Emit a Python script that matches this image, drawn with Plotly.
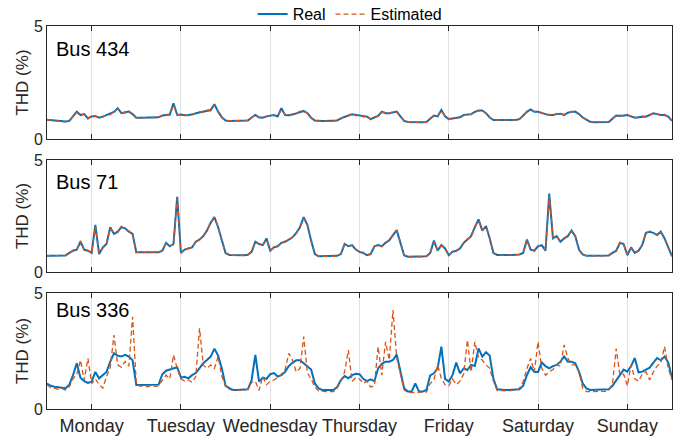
import numpy as np
import plotly.graph_objects as go

# ---------------- data (hourly samples, 7 days) ----------------
day_labels = ["Monday", "Tuesday", "Wednesday", "Thursday", "Friday", "Saturday", "Sunday"]
bus_names = ["Bus 434", "Bus 71", "Bus 336"]

bus434_real = [
    0.85,0.84,0.82,0.80,0.78,0.77,0.80,0.99,1.21,1.06,1.10,0.91,1.00,1.02,0.94,0.99,1.06,1.10,1.20,1.36,1.14,1.18,1.21,1.10,
    0.94,0.94,0.94,0.94,0.94,0.94,0.96,1.04,1.06,1.08,1.58,1.06,1.08,1.05,1.06,1.08,1.14,1.18,1.21,1.24,1.28,1.54,1.21,0.96,
    0.82,0.80,0.80,0.80,0.80,0.80,0.82,0.95,1.06,0.96,0.94,1.00,1.02,1.06,1.00,1.36,1.06,1.05,1.08,1.14,1.20,1.24,1.14,0.94,
    0.82,0.80,0.80,0.80,0.80,0.80,0.82,0.91,0.99,1.04,1.09,1.06,1.05,1.00,0.99,0.88,0.95,1.02,1.21,1.14,1.14,1.18,1.21,1.00,
    0.80,0.75,0.74,0.74,0.74,0.74,0.75,0.90,1.04,1.00,1.28,1.00,0.88,0.91,0.92,0.96,1.06,1.08,1.10,1.20,1.26,1.26,1.14,0.95,
    0.84,0.84,0.84,0.84,0.84,0.84,0.84,0.88,1.04,1.20,1.31,1.20,1.20,1.14,1.10,1.06,1.06,1.10,1.12,1.06,1.16,1.20,1.21,1.10,
    0.95,0.86,0.76,0.74,0.74,0.74,0.74,0.75,0.90,1.04,1.02,1.04,1.06,1.00,0.94,0.96,0.99,0.99,1.06,1.14,1.10,1.06,1.06,0.99,
    0.80]
bus434_est = [
    0.84,0.85,0.81,0.79,0.79,0.76,0.81,1.02,1.17,1.04,1.12,0.89,1.03,0.99,0.96,0.97,1.08,1.07,1.24,1.32,1.16,1.15,1.24,1.08,
    0.93,0.95,0.93,0.95,0.93,0.95,0.97,1.02,1.09,1.05,1.50,1.09,1.05,1.08,1.03,1.10,1.12,1.21,1.18,1.27,1.25,1.50,1.24,0.94,
    0.81,0.81,0.79,0.81,0.79,0.81,0.83,0.93,1.09,0.94,0.97,0.98,1.05,1.03,1.03,1.30,1.09,1.02,1.11,1.12,1.23,1.21,1.16,0.92,
    0.83,0.79,0.81,0.79,0.81,0.79,0.83,0.89,1.02,1.01,1.12,1.03,1.08,0.97,1.02,0.86,0.98,1.00,1.18,1.17,1.11,1.21,1.18,1.02,
    0.79,0.76,0.73,0.75,0.73,0.75,0.74,0.92,1.01,1.03,1.22,1.03,0.86,0.94,0.90,0.99,1.03,1.11,1.07,1.23,1.23,1.29,1.11,0.97,
    0.83,0.85,0.83,0.85,0.83,0.85,0.83,0.90,1.01,1.23,1.27,1.23,1.17,1.17,1.07,1.09,1.03,1.13,1.09,1.09,1.13,1.23,1.18,1.12,
    0.94,0.87,0.75,0.75,0.73,0.75,0.73,0.76,0.92,1.01,1.05,1.01,1.09,0.97,0.96,0.94,1.02,0.97,1.09,1.11,1.13,1.03,1.09,0.96,
    0.81]

bus71_real = [
    0.73,0.73,0.73,0.73,0.73,0.74,0.85,0.95,1.00,1.35,1.00,0.95,0.85,2.10,0.80,1.10,1.25,2.00,1.70,1.80,2.00,1.95,1.80,1.70,
    0.88,0.88,0.88,0.88,0.88,0.88,0.88,0.95,1.30,1.15,1.25,3.36,0.85,1.00,1.05,1.10,1.35,1.45,1.60,1.85,2.20,2.45,2.00,1.40,
    0.85,0.76,0.75,0.75,0.75,0.75,0.77,0.90,1.35,1.25,1.20,1.50,0.95,1.10,1.15,1.30,1.35,1.45,1.55,1.75,2.00,2.45,2.10,1.40,
    0.80,0.70,0.70,0.70,0.70,0.70,0.72,0.80,1.25,1.15,1.20,1.00,0.90,0.85,0.75,0.80,1.15,1.20,1.15,1.30,1.42,1.65,1.87,1.30,
    0.75,0.68,0.68,0.68,0.68,0.68,0.70,0.85,1.40,0.95,1.20,1.05,0.75,0.90,0.95,1.05,1.30,1.45,1.60,2.00,2.35,1.85,2.05,1.50,
    0.85,0.76,0.75,0.76,0.76,0.76,0.77,0.78,0.85,1.45,1.00,0.95,1.15,1.20,0.95,3.50,1.50,1.60,1.35,1.50,1.60,1.85,1.60,1.00,
    0.78,0.72,0.72,0.72,0.72,0.72,0.72,0.74,0.85,0.95,1.30,1.25,0.75,1.10,0.85,0.95,1.20,1.75,1.80,1.75,1.65,1.80,1.50,1.10,
    0.70]
bus71_est = [
    0.72,0.74,0.72,0.74,0.72,0.75,0.83,0.98,0.97,1.40,0.97,0.98,0.82,2.05,0.83,1.07,1.28,1.95,1.74,1.76,2.04,1.90,1.84,1.66,
    0.87,0.89,0.87,0.89,0.87,0.89,0.87,0.98,1.27,1.18,1.22,3.30,0.88,0.97,1.08,1.07,1.38,1.42,1.64,1.81,2.24,2.40,2.04,1.36,
    0.84,0.77,0.74,0.76,0.74,0.76,0.76,0.93,1.31,1.28,1.17,1.45,0.98,1.07,1.18,1.27,1.38,1.42,1.58,1.72,2.04,2.40,2.13,1.36,
    0.81,0.71,0.69,0.71,0.69,0.71,0.71,0.83,1.22,1.18,1.17,1.03,0.87,0.88,0.74,0.83,1.12,1.23,1.12,1.33,1.38,1.68,1.83,1.33,
    0.74,0.69,0.67,0.69,0.67,0.69,0.71,0.82,1.36,0.98,1.17,1.08,0.73,0.93,0.92,1.08,1.27,1.48,1.57,2.03,2.30,1.88,2.01,1.53,
    0.84,0.77,0.74,0.77,0.75,0.77,0.76,0.79,0.88,1.40,1.03,0.92,1.18,1.17,0.98,3.42,1.53,1.57,1.38,1.47,1.63,1.82,1.63,0.97,
    0.77,0.73,0.71,0.73,0.71,0.73,0.71,0.75,0.88,0.92,1.33,1.22,0.78,1.07,0.88,0.92,1.23,1.72,1.83,1.72,1.68,1.77,1.53,1.07,
    0.71]

bus336_real = [
    1.10,1.00,0.96,0.94,0.92,0.90,1.05,1.46,1.97,1.35,1.20,1.12,1.18,1.60,1.32,1.46,1.60,2.04,2.40,2.30,2.26,2.33,2.26,2.10,
    1.03,1.03,1.03,1.03,1.03,1.03,1.05,1.50,1.65,1.70,1.75,1.80,1.35,1.39,1.32,1.46,1.55,1.78,1.97,2.11,2.26,2.60,2.30,1.75,
    1.00,0.90,0.82,0.82,0.82,0.82,0.85,1.25,2.33,1.18,1.35,1.30,1.50,1.55,1.40,1.46,1.60,1.85,2.00,2.10,2.10,1.97,1.85,1.70,
    1.10,0.89,0.82,0.82,0.82,0.82,0.95,1.25,1.42,1.32,1.46,1.52,1.50,1.30,1.20,1.28,1.20,1.75,1.95,2.04,2.04,2.11,2.35,1.65,
    0.89,0.75,0.75,1.10,0.75,0.75,0.82,1.45,1.54,1.75,2.69,1.30,1.18,1.46,2.00,1.54,1.75,1.68,1.90,1.85,2.61,2.26,2.45,2.30,
    1.30,0.85,0.82,0.82,0.82,0.82,0.82,0.85,1.00,1.46,1.80,1.60,1.60,2.00,1.85,1.75,1.85,1.90,2.04,2.26,2.04,2.04,1.97,1.61,
    1.10,0.89,0.82,0.82,0.82,0.82,0.82,0.85,1.00,1.25,1.46,1.70,1.61,1.85,2.20,1.58,1.61,1.70,1.78,2.00,2.20,2.10,2.26,2.00,
    1.35]
bus336_est = [
    1.05,0.92,0.90,0.85,0.88,0.82,0.95,1.30,1.50,2.10,1.25,2.18,1.10,1.30,1.05,0.90,1.40,1.80,3.19,1.90,1.80,2.05,1.85,3.97,
    1.10,0.98,1.00,0.96,1.00,0.98,1.00,1.25,1.46,1.30,2.33,1.75,1.30,1.20,1.25,1.15,1.40,3.48,1.90,1.75,1.90,1.75,2.26,1.40,
    1.00,0.85,0.80,0.82,0.80,0.82,0.85,1.15,1.20,0.80,1.40,1.05,1.20,1.25,1.35,1.50,1.70,2.40,2.10,1.60,1.75,3.12,1.55,1.30,
    0.95,0.78,0.75,0.75,0.75,0.75,0.90,1.20,1.60,2.54,1.20,1.35,1.30,1.10,1.20,0.95,1.00,2.69,1.46,2.90,2.11,4.27,2.20,1.50,
    0.82,0.71,0.71,0.72,0.70,0.71,0.73,1.10,1.25,1.90,1.32,1.05,1.00,1.30,1.05,1.20,1.50,2.97,1.60,2.90,2.20,2.11,1.90,1.75,
    1.20,0.80,0.79,0.80,0.78,0.80,0.80,0.90,1.18,1.75,2.18,1.60,2.90,1.75,1.46,1.60,1.70,1.90,1.85,2.76,2.20,1.90,1.90,1.60,
    0.90,0.75,0.75,0.75,0.75,0.75,0.76,0.80,1.10,2.60,1.46,1.50,1.00,1.90,1.30,1.20,1.50,1.60,1.25,1.60,1.85,2.00,2.69,1.75,
    1.25]

real_series = [bus434_real, bus71_real, bus336_real]
est_series = [bus434_est, bus71_est, bus336_est]

# ---------------- figure ----------------
BLUE = "#0072BD"
ORANGE = "#D95319"
AX = "#262626"
FONT = "Liberation Sans, Arial, sans-serif"

hours = np.arange(len(bus434_real))  # sample index = hour
tick_hours = [12 + 24 * i for i in range(7)]

# panel vertical domains (top to bottom)
domains = [[0.705, 1.0], [0.3577, 0.6501], [0.0, 0.3029]]
label_y = [4.0, 4.0, 4.25]

fig = go.Figure()
for i in range(3):
    xa = "x" if i == 0 else f"x{i+1}"
    ya = "y" if i == 0 else f"y{i+1}"
    fig.add_trace(go.Scatter(x=hours, y=real_series[i], mode="lines", name="Real",
                             line=dict(color=BLUE, width=2), xaxis=xa, yaxis=ya,
                             showlegend=(i == 0)))
    fig.add_trace(go.Scatter(x=hours, y=est_series[i], mode="lines", name="Estimated",
                             line=dict(color=ORANGE, width=1.3, dash="5px,3px"), xaxis=xa, yaxis=ya,
                             showlegend=(i == 0)))

layout = dict(
    width=683, height=443,
    margin=dict(l=47, r=11, t=26, b=34, autoexpand=False),
    paper_bgcolor="white", plot_bgcolor="white",
    font=dict(family=FONT, color=AX, size=16),
    legend=dict(orientation="h", x=0.485, xanchor="center", y=1.031, yanchor="middle",
                font=dict(size=16, color="black"), bgcolor="rgba(0,0,0,0)",
                tracegroupgap=0, itemwidth=30),
)
for i in range(3):
    xkey = "xaxis" if i == 0 else f"xaxis{i+1}"
    ykey = "yaxis" if i == 0 else f"yaxis{i+1}"
    ya = "y" if i == 0 else f"y{i+1}"
    xa = "x" if i == 0 else f"x{i+1}"
    layout[xkey] = dict(
        domain=[0, 1], anchor=ya, range=[0, 168],
        tickvals=tick_hours, ticktext=day_labels, showticklabels=(i == 2),
        tickfont=dict(size=18, color=AX),
        ticks="inside", ticklen=5, tickcolor=AX, tickwidth=1,
        showline=True, linecolor=AX, linewidth=1, mirror="ticks",
        showgrid=True, gridcolor="#e3e3e3", gridwidth=1, zeroline=False,
    )
    layout[ykey] = dict(
        domain=domains[i], anchor=xa, range=[0, 5],
        tickvals=[0, 5], tickfont=dict(size=16, color=AX),
        ticks="inside", ticklen=5, tickcolor=AX,
        showline=True, linecolor=AX, linewidth=1, mirror="ticks",
        showgrid=False, zeroline=False,
        title=dict(text="THD (%)", font=dict(size=17, color=AX), standoff=0),
    )
fig.update_layout(**layout)

for i in range(3):
    xa = "x" if i == 0 else f"x{i+1}"
    ya = "y" if i == 0 else f"y{i+1}"
    fig.add_annotation(x=2, y=label_y[i], xref=xa, yref=ya, text=bus_names[i],
                       showarrow=False, xanchor="left", yanchor="middle",
                       font=dict(size=20, color="black", family=FONT))

fig.write_html("out.html")
